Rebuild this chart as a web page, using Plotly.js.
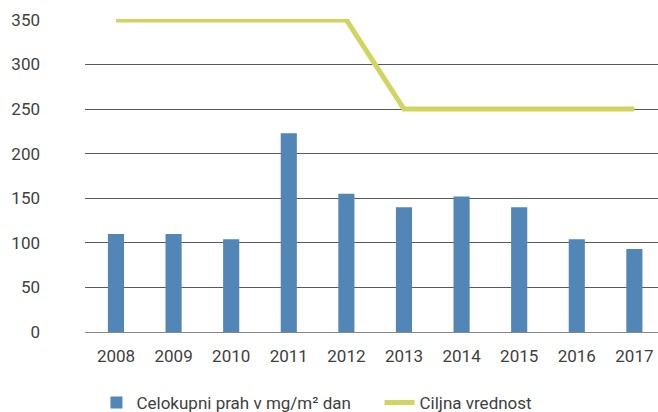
<!DOCTYPE html>
<html>
<head>
<meta charset="utf-8">
<script src="https://cdn.plot.ly/plotly-3.0.1.min.js"></script>
<style>html,body{margin:0;padding:0;background:#fff;}#chart{width:658px;height:412px;}</style>
</head>
<body>
<div id="chart"></div>
<script>
const years = ['2008','2009','2010','2011','2012','2013','2014','2015','2016','2017'];
const dust = [110, 110, 104, 223, 155, 140, 152, 140, 104, 93];
const target = [350, 350, 350, 350, 350, 250, 250, 250, 250, 250];
const dustName = 'Celokupni prah v mg/m² dan';
const targetName = 'Ciljna vrednost';
const yTicks = [0, 50, 100, 150, 200, 250, 300, 350];

const font = {family: 'Roboto, "Open Sans", sans-serif', size: 17, color: '#404040'};

const data = [
  {type: 'bar', x: years, y: dust, name: dustName, marker: {color: '#5286B6'}, width: 0.28,
   legend: 'legend'},
  {type: 'scatter', mode: 'lines', x: years, y: target, name: targetName,
   line: {color: '#D1D45E', width: 5}, cliponaxis: false, legend: 'legend2'}
];

const legendBase = {orientation: 'h', xanchor: 'left', y: -0.227, yanchor: 'middle',
                    font: font, itemwidth: 30, bgcolor: 'rgba(0,0,0,0)'};

const layout = {
  width: 658, height: 412,
  margin: {l: 85, r: 0, t: 19, b: 80, autoexpand: false},
  paper_bgcolor: '#fff', plot_bgcolor: '#fff',
  font: font,
  showlegend: true,
  legend: Object.assign({}, legendBase, {x: 0.02}),
  legend2: Object.assign({}, legendBase, {x: 0.514}),
  xaxis: {type: 'category', range: [-0.538, 9.41], showgrid: false, zeroline: false,
          showline: false, ticks: '', ticklabelstandoff: 12, tickfont: font},
  yaxis: {range: [0, 351], tickvals: yTicks, ticktext: yTicks.map(String),
          showgrid: true, gridcolor: '#5a5a5a', gridwidth: 1,
          zeroline: true, zerolinecolor: '#888', zerolinewidth: 1,
          showline: false, ticks: '', ticklabelstandoff: 44, tickfont: font}
};

Plotly.newPlot('chart', data, layout, {displayModeBar: false, staticPlot: true});
</script>
</body>
</html>
